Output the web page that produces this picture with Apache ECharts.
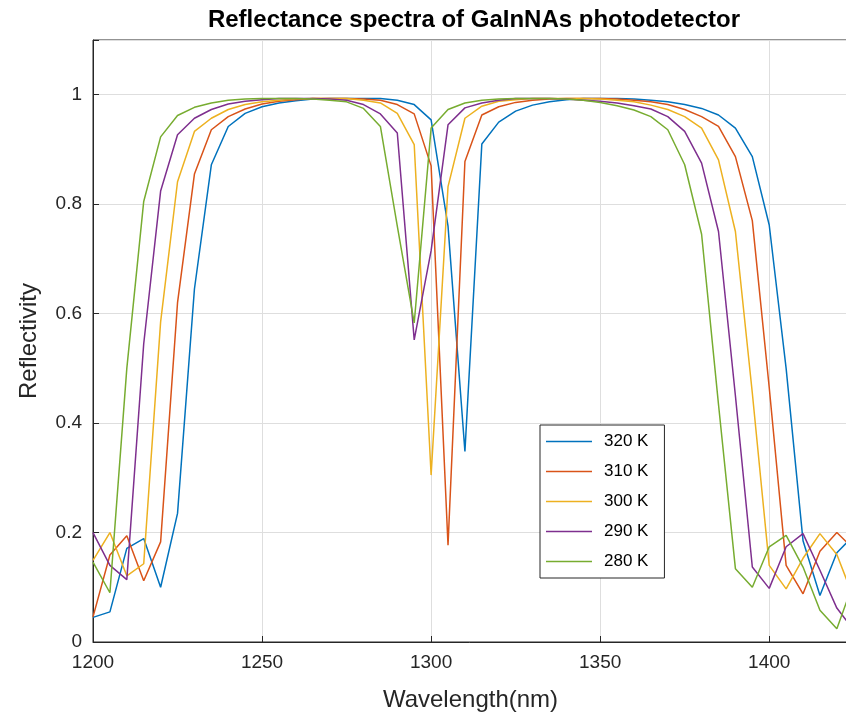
<!DOCTYPE html>
<html>
<head>
<meta charset="utf-8">
<title>Reflectance spectra of GaInNAs photodetector</title>
<script src="https://cdn.jsdelivr.net/npm/echarts@6/dist/echarts.min.js"></script>
<style>
  html, body { margin: 0; padding: 0; background: #fff; }
  #main { width: 846px; height: 722px; }
</style>
</head>
<body>
<div id="main"></div>
<script>
// wavelength samples (nm)
const wavelengths = [
  1200, 1205, 1210, 1215, 1220, 1225, 1230, 1235, 1240, 1245,
  1250, 1255, 1260, 1265, 1270, 1275, 1280, 1285, 1290, 1295,
  1300, 1305, 1310, 1315, 1320, 1325, 1330, 1335, 1340, 1345,
  1350, 1355, 1360, 1365, 1370, 1375, 1380, 1385, 1390, 1395,
  1400, 1405, 1410, 1415, 1420, 1425
];

const r320 = [
  0.045, 0.055, 0.171, 0.189, 0.100, 0.235, 0.645, 0.872, 0.942, 0.966,
  0.978, 0.985, 0.989, 0.992, 0.993, 0.993, 0.993, 0.993, 0.990, 0.982,
  0.954, 0.760, 0.348, 0.910, 0.950, 0.970, 0.981, 0.987, 0.991, 0.993,
  0.993, 0.993, 0.992, 0.990, 0.987, 0.982, 0.975, 0.963, 0.939, 0.887,
  0.762, 0.500, 0.185, 0.085, 0.163, 0.195
];
const r310 = [
  0.046, 0.159, 0.194, 0.112, 0.183, 0.620, 0.855, 0.936, 0.960, 0.974,
  0.983, 0.988, 0.991, 0.993, 0.993, 0.993, 0.992, 0.990, 0.982, 0.965,
  0.870, 0.177, 0.878, 0.963, 0.978, 0.986, 0.990, 0.992, 0.993, 0.993,
  0.993, 0.992, 0.990, 0.987, 0.982, 0.973, 0.960, 0.942, 0.887, 0.770,
  0.465, 0.140, 0.088, 0.166, 0.200, 0.170
];
const r300 = [
  0.149, 0.200, 0.121, 0.143, 0.585, 0.841, 0.933, 0.957, 0.973, 0.982,
  0.987, 0.990, 0.992, 0.993, 0.993, 0.993, 0.990, 0.985, 0.966, 0.909,
  0.305, 0.832, 0.957, 0.979, 0.988, 0.991, 0.993, 0.993, 0.993, 0.993,
  0.992, 0.990, 0.987, 0.981, 0.973, 0.960, 0.939, 0.881, 0.750, 0.455,
  0.140, 0.097, 0.153, 0.198, 0.160, 0.080
];
const r290 = [
  0.200, 0.140, 0.114, 0.545, 0.824, 0.927, 0.957, 0.973, 0.983, 0.988,
  0.991, 0.993, 0.993, 0.993, 0.992, 0.990, 0.982, 0.965, 0.930, 0.552,
  0.715, 0.945, 0.976, 0.985, 0.990, 0.993, 0.993, 0.993, 0.992, 0.990,
  0.988, 0.985, 0.980, 0.974, 0.960, 0.933, 0.875, 0.750, 0.450, 0.137,
  0.098, 0.174, 0.198, 0.131, 0.062, 0.022
];
const r280 = [
  0.146, 0.090, 0.500, 0.805, 0.923, 0.962, 0.977, 0.985, 0.990, 0.992,
  0.993, 0.993, 0.993, 0.992, 0.990, 0.987, 0.975, 0.942, 0.760, 0.583,
  0.939, 0.973, 0.985, 0.990, 0.992, 0.993, 0.993, 0.993, 0.992, 0.990,
  0.986, 0.980, 0.972, 0.960, 0.936, 0.872, 0.745, 0.434, 0.134, 0.100,
  0.174, 0.195, 0.137, 0.058, 0.024, 0.110
];

const seriesNames = ["320 K", "310 K", "300 K", "290 K", "280 K"];
const seriesValues = [r320, r310, r300, r290, r280];
const colors = ["#0072BD", "#D95319", "#EDB120", "#7E2F8E", "#77AC30"];

const xTicks = [1200, 1250, 1300, 1350, 1400];
const yTicks = [0, 0.2, 0.4, 0.6, 0.8, 1];

const font = "'Liberation Sans', Arial, Helvetica, sans-serif";
const ink = "#262626";

const myChart = echarts.init(document.getElementById("main"));

const option = {
  animation: false,
  color: colors,
  title: {
    text: "Reflectance spectra of GaInNAs photodetector",
    left: 469,
    top: 3,
    textAlign: "center",
    textStyle: {
      fontFamily: font,
      fontWeight: "bold",
      fontSize: 24,
      color: "#000"
    }
  },
  legend: {
    data: seriesNames,
    orient: "vertical",
    left: 540,
    top: 425,
    padding: [8, 16, 8, 6],
    itemGap: 13,
    itemWidth: 46,
    itemHeight: 1.5,
    icon: "rect",
    backgroundColor: "#fff",
    borderColor: ink,
    borderWidth: 1,
    borderRadius: 0,
    textStyle: {
      fontFamily: font,
      fontSize: 17,
      lineHeight: 16,
      color: "#000",
      padding: [0, 0, 0, 7]
    }
  },
  grid: {
    left: 93,
    right: -2,
    top: 40,
    bottom: 80,
    outerBoundsMode: "none",
    show: true,
    borderColor: ink,
    borderWidth: 1,
    backgroundColor: "#fff"
  },
  xAxis: {
    type: "value",
    min: 1200,
    max: 1423.3,
    interval: 50,
    name: "Wavelength(nm)",
    nameLocation: "middle",
    nameGap: 46,
    nameTextStyle: {
      fontFamily: font,
      fontSize: 24,
      color: ink
    },
    axisLine: { lineStyle: { color: ink, width: 1 } },
    axisTick: { inside: true, length: 6, lineStyle: { color: ink } },
    axisLabel: {
      fontFamily: font,
      fontSize: 19,
      color: ink,
      margin: 11,
      formatter: (v) => (xTicks.includes(v) ? String(v) : "")
    },
    splitLine: { show: true, lineStyle: { color: "#dedede", width: 1 } }
  },
  yAxis: {
    type: "value",
    min: 0,
    max: 1.1,
    interval: 0.2,
    name: "Reflectivity",
    nameLocation: "middle",
    nameGap: 52,
    nameTextStyle: {
      fontFamily: font,
      fontSize: 24,
      color: ink
    },
    axisLine: { show: true, lineStyle: { color: ink, width: 1 } },
    axisTick: { show: true, inside: true, length: 6, lineStyle: { color: ink } },
    axisLabel: {
      fontFamily: font,
      fontSize: 19,
      color: ink,
      margin: 11,
      formatter: (v) => {
        const hit = yTicks.find((t) => Math.abs(t - v) < 1e-9);
        return hit === undefined ? "" : String(hit);
      }
    },
    splitLine: { show: true, lineStyle: { color: "#dedede", width: 1 } }
  },
  series: seriesNames.map((name, i) => ({
    name: name,
    type: "line",
    symbol: "none",
    clip: true,
    lineStyle: { width: 1.5, color: colors[i] },
    itemStyle: { color: colors[i] },
    data: wavelengths.map((w, k) => [w, seriesValues[i][k]])
  }))
};

myChart.setOption(option);
</script>
</body>
</html>
